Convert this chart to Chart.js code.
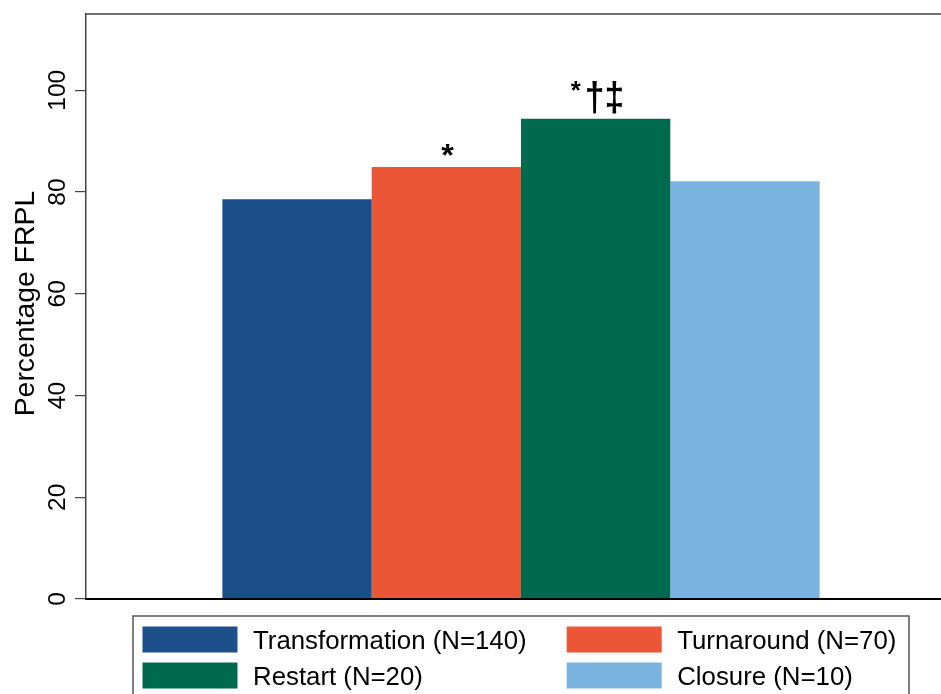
<!DOCTYPE html>
<html>
<head>
<meta charset="utf-8">
<script src="https://cdn.jsdelivr.net/npm/chart.js@4.4.1/dist/chart.umd.min.js"></script>
<style>
  html, body { margin: 0; padding: 0; background: #fff; overflow: hidden; width: 941px; height: 694px; }
  canvas { display: block; }
</style>
</head>
<body>
<canvas id="chart" width="956" height="694"></canvas>
<script>
// School groups, share of students eligible for free/reduced-price lunch
const groups = ['Transformation (N=140)', 'Turnaround (N=70)', 'Restart (N=20)', 'Closure (N=10)'];
const frplPercent = [78.6, 84.9, 94.4, 82.1];
const significance = ['', '*', '*\u2020\u2021', ''];
const yTicks = [0, 20, 40, 60, 80, 100];
const yTitle = 'Percentage FRPL';
const colors = ['#1c4e8a', '#ea5636', '#006a4e', '#7ab3e0'];

const FONT = '"Liberation Sans", Arial, Helvetica, sans-serif';

// Draw a short run of symbols so its inked box has the given size, top edge and centre
function drawSymbols(ctx, text, weight, cx, top, w, h) {
  ctx.save();
  ctx.font = weight + ' 100px ' + FONT;
  ctx.textAlign = 'left';
  ctx.textBaseline = 'alphabetic';
  const m = ctx.measureText(text);
  const inkW = m.actualBoundingBoxLeft + m.actualBoundingBoxRight;
  const inkH = m.actualBoundingBoxAscent + m.actualBoundingBoxDescent;
  const sx = w / inkW, sy = h / inkH;
  ctx.translate(cx - w / 2, top);
  ctx.scale(sx, sy);
  ctx.fillText(text, m.actualBoundingBoxLeft, m.actualBoundingBoxAscent);
  ctx.restore();
}

const decorations = {
  id: 'decorations',
  afterDraw(chart) {
    const ctx = chart.ctx;
    const area = chart.chartArea;
    const yScale = chart.scales.y;

    // frame top and right edge
    ctx.save();
    ctx.strokeStyle = '#444';
    ctx.lineWidth = 1.5;
    ctx.beginPath();
    ctx.moveTo(area.left, area.top);
    ctx.lineTo(area.right, area.top);
    ctx.lineTo(area.right, area.bottom);
    ctx.stroke();
    ctx.restore();

    // y tick labels, rotated
    ctx.save();
    ctx.fillStyle = '#000';
    ctx.font = '24.5px ' + FONT;
    ctx.textAlign = 'center';
    ctx.textBaseline = 'alphabetic';
    yTicks.forEach(v => {
      const y = yScale.getPixelForValue(v);
      ctx.save();
      ctx.translate(65, y);
      ctx.rotate(-Math.PI / 2);
      ctx.fillText(String(v), 0, 0);
      ctx.restore();
    });
    ctx.restore();

    // y axis title
    ctx.save();
    ctx.fillStyle = '#000';
    ctx.font = '28.4px ' + FONT;
    ctx.textAlign = 'center';
    ctx.textBaseline = 'alphabetic';
    ctx.translate(33.5, (area.top + area.bottom) / 2 - 3);
    ctx.rotate(-Math.PI / 2);
    ctx.fillText(yTitle, 0, 0);
    ctx.restore();

    // significance marks above bars: asterisk, then daggers
    ctx.save();
    ctx.fillStyle = '#000';
    significance.forEach((mark, i) => {
      if (!mark) return;
      const bar = chart.getDatasetMeta(i).data[0];
      const star = mark.charAt(0);
      const rest = mark.slice(1);
      if (!rest) {
        drawSymbols(ctx, star, 'bold', bar.x + 1.2, bar.y - 22.7, 12.6, 12);
      } else {
        const top = bar.y - 37.6;
        drawSymbols(ctx, star, 'bold', bar.x - 20, top, 10, 10);
        drawSymbols(ctx, rest, 'bold', bar.x + 8.8, top, 35, 32.3);
      }
    });
    ctx.restore();

    // legend box
    ctx.save();
    ctx.strokeStyle = '#555';
    ctx.lineWidth = 1.5;
    ctx.strokeRect(133, 616, 776, 100);
    const colX = [142.5, 566.7];
    const rowY = [626.5, 662.5];
    ctx.font = '25.8px ' + FONT;
    ctx.textAlign = 'left';
    ctx.textBaseline = 'alphabetic';
    groups.forEach((g, i) => {
      const cx = colX[i % 2];
      const ry = rowY[Math.floor(i / 2)];
      ctx.fillStyle = colors[i];
      ctx.fillRect(cx, ry, 95, 26);
      ctx.fillStyle = '#000';
      ctx.fillText(g, cx + 110.5, ry + 22);
    });
    ctx.restore();
  }
};

new Chart(document.getElementById('chart'), {
  type: 'bar',
  data: {
    labels: [''],
    datasets: groups.map((g, i) => ({
      label: g,
      data: [frplPercent[i]],
      backgroundColor: colors[i],
      borderWidth: 0,
      categoryPercentage: 0.6865,
      barPercentage: 1
    }))
  },
  options: {
    responsive: false,
    animation: false,
    devicePixelRatio: 1,
    layout: { padding: { left: 0, right: 0, top: 14, bottom: 95 } },
    plugins: {
      legend: { display: false },
      tooltip: { enabled: false }
    },
    scales: {
      x: {
        type: 'category',
        grid: { display: false },
        ticks: { display: false },
        border: { display: true, color: '#000', width: 2, z: 1 },
        afterFit(scale) { scale.height = 0; }
      },
      y: {
        type: 'linear',
        min: 0,
        max: 115,
        afterBuildTicks(scale) { scale.ticks = yTicks.map(v => ({ value: v })); },
        ticks: { display: false },
        grid: { drawOnChartArea: false, drawTicks: true, tickLength: 11, color: '#444', lineWidth: 1.2 },
        border: { display: true, color: '#444', width: 1.5 },
        afterFit(scale) { scale.width = 86; }
      }
    }
  },
  plugins: [decorations]
});
</script>
</body>
</html>
